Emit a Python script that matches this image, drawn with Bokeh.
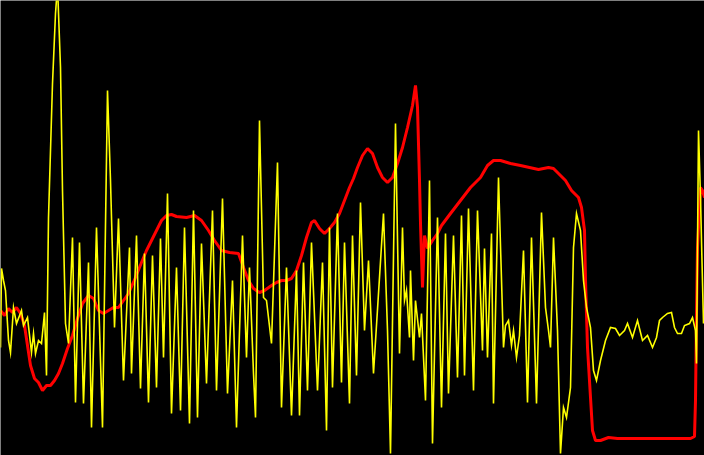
from bokeh.plotting import figure
from bokeh.models import Range1d
from bokeh.embed import file_html
from bokeh.resources import INLINE

# Trace values (screen rows: 0 = top, 455 = bottom)
yellow_x = [0, 1, 3, 5, 8, 10, 13, 16, 21, 23, 27, 31, 33, 35, 38, 41, 44, 46, 48, 52, 55, 57, 60, 62, 65, 68,
            72, 75, 79, 83, 88, 91, 96, 102, 107, 110, 114, 118, 123, 129, 131, 136, 140, 144, 148, 152, 156,
            160, 163, 167, 171, 176, 180, 184, 189, 193, 197, 201, 206, 212, 216, 222, 227, 232, 236, 242, 246,
            249, 253, 255, 259, 263, 266, 271, 277, 281, 286, 291, 296, 299, 303, 307, 311, 317, 322, 326, 329,
            332, 337, 341, 344, 349, 352, 356, 360, 364, 368, 373, 383, 387, 390, 395, 399, 402, 404, 406, 409,
            410, 413, 415, 419, 421, 425, 429, 432, 437, 441, 445, 448, 453, 457, 461, 464, 468, 473, 477, 482,
            484, 487, 491, 493, 498, 503, 505, 508, 511, 513, 516, 519, 523, 527, 531, 536, 541, 545, 548, 550,
            553, 557, 560, 563, 566, 570, 573, 576, 580, 583, 586, 590, 593, 596, 600, 605, 610, 615, 619, 624,
            627, 632, 637, 642, 647, 652, 656, 659, 662, 667, 671, 674, 677, 681, 684, 689, 692, 695, 696, 698,
            700, 701, 703]
yellow_y = [347, 268, 280, 290, 340, 352, 307, 323, 310, 325, 317, 352, 333, 353, 340, 343, 312, 375, 217, 83, 13, -15,
            67, 190, 323, 343, 237, 402, 242, 403, 262, 427, 227, 427, 90, 180, 327, 218, 380, 247, 373, 235, 388,
            253, 402, 255, 387, 238, 357, 193, 413, 267, 410, 227, 423, 210, 417, 243, 383, 210, 390, 198, 393,
            280, 427, 235, 357, 267, 373, 417, 120, 297, 300, 343, 162, 407, 267, 415, 270, 415, 262, 390, 242,
            390, 262, 430, 227, 387, 213, 382, 242, 403, 235, 375, 202, 330, 260, 373, 213, 330, 453, 123, 353,
            227, 300, 290, 337, 270, 360, 300, 337, 313, 400, 180, 443, 217, 407, 233, 393, 235, 377, 215, 375,
            208, 390, 210, 350, 248, 357, 233, 403, 177, 347, 325, 320, 345, 330, 357, 335, 250, 402, 237, 403,
            212, 307, 330, 347, 237, 330, 453, 407, 417, 387, 247, 213, 230, 280, 307, 327, 370, 380, 360, 340,
            327, 328, 335, 330, 323, 337, 320, 340, 335, 347, 337, 320, 317, 313, 312, 327, 333, 333, 325, 323,
            317, 330, 363, 130, 197, 240, 323]

red_x = [0, 4, 8, 12, 16, 20, 24, 27, 30, 34, 38, 42, 46, 50, 54, 58, 62, 67, 72, 77, 82, 88, 93, 98, 103, 108,
         113, 118, 123, 128, 135, 141, 146, 151, 156, 161, 166, 171, 176, 186, 194, 201, 208, 214, 221, 229, 238,
         243, 248, 253, 259, 264, 271, 276, 281, 286, 291, 296, 301, 306, 311, 314, 319, 324, 329, 334, 339, 344,
         349, 353, 357, 362, 367, 372, 377, 382, 387, 392, 397, 402, 407, 412, 415, 417, 419, 420, 422, 424, 427,
         432, 437, 441, 450, 460, 470, 480, 487, 493, 500, 510, 520, 529, 538, 548, 553, 558, 565, 571, 578, 581,
         584, 585, 587, 590, 592, 595, 600, 608, 617, 630, 645, 660, 675, 690, 694, 695, 696, 697, 700, 702, 704]
red_y = [310, 315, 308, 312, 307, 313, 325, 345, 365, 378, 382, 390, 385, 385, 380, 373, 363, 348, 335, 318, 303, 295,
         298, 310, 313, 310, 307, 307, 300, 293, 277, 262, 250, 240, 230, 220, 215, 214, 216, 217, 215, 220, 230,
         240, 250, 252, 253, 267, 280, 288, 292, 290, 285, 282, 280, 280, 278, 270, 255, 237, 222, 220, 228, 233,
         228, 222, 213, 200, 187, 178, 167, 155, 148, 153, 167, 177, 182, 177, 163, 147, 127, 105, 85, 107, 180,
         223, 287, 235, 248, 240, 233, 225, 213, 200, 187, 177, 165, 160, 160, 163, 165, 167, 169, 167, 168, 173,
         180, 190, 197, 207, 230, 280, 347, 397, 430, 440, 440, 437, 438, 438, 438, 438, 438, 438, 436, 400, 313,
         247, 187, 190, 197]

p = figure(width=704, height=455, output_backend="svg", toolbar_location=None,
           x_range=Range1d(0, 704), y_range=Range1d(455, 0),
           background_fill_color="black", border_fill_color="black",
           min_border=0, outline_line_color=None)
p.xaxis.visible = False
p.yaxis.visible = False
p.grid.visible = False

p.line(red_x, red_y, line_color="#ff0000", line_width=3)
p.line(yellow_x, yellow_y, line_color="#ffff00", line_width=1.6, line_join="miter")

open("out.html", "w").write(file_html(p, INLINE))
